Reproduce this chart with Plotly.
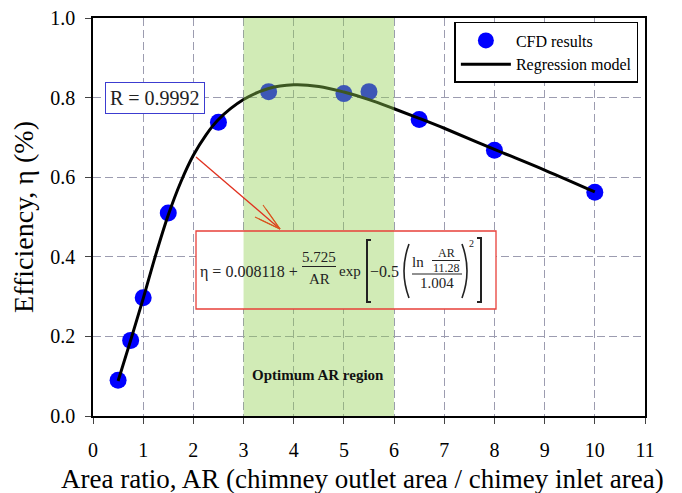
import plotly.graph_objects as go

# ---- data ----
ar_cfd = [0.5, 0.75, 1.0, 1.5, 2.5, 3.5, 5.0, 5.5, 6.5, 8.0, 10.0]
eta_cfd = [0.09, 0.19, 0.297, 0.51, 0.738, 0.815, 0.81, 0.815, 0.745, 0.668, 0.562]

ar_model = [0.5, 0.75, 1.0, 1.25, 1.5, 1.75, 2.0, 2.25, 2.5, 3.0, 3.5, 4.0, 4.5, 5.0, 5.5, 6.0,
            6.5, 7.0, 8.0, 9.0, 10.0]
eta_model = [0.088, 0.19, 0.295, 0.405, 0.505, 0.588, 0.655, 0.706, 0.745, 0.795, 0.823, 0.832,
             0.828, 0.814, 0.795, 0.772, 0.748, 0.723, 0.670, 0.618, 0.563]

x_ticks = list(range(0, 12))
y_ticks = [0.0, 0.2, 0.4, 0.6, 0.8, 1.0]

# page body adds an 8px offset; figure is sized so that the plot area lands
# at x 93..645, y 18..416 in the 682x493 window
OFF = 8
W, H = 682 - OFF, 493 - OFF
PX0, PX1, PY0, PY1 = 93, 645, 416, 18
L, R, T, B = PX0 - OFF, W + OFF - PX1, PY1 - OFF, H + OFF - PY0
XMAX, YMAX = 11.0, 1.0

def dx(px):
    return (px - PX0) / (PX1 - PX0) * XMAX

def dy(py):
    return (PY0 - py) / (PY0 - PY1) * YMAX

SERIF = "Liberation Serif, Times New Roman, serif"

fig = go.Figure()
fig.add_trace(go.Scatter(x=ar_cfd, y=eta_cfd, mode="markers", name="CFD results",
                         marker=dict(color="#0000ff", size=17)))
fig.add_trace(go.Scatter(x=ar_model, y=eta_model, mode="lines", name="Regression model",
                         line=dict(color="black", width=3, shape="spline", smoothing=1)))

shapes = []
bx0, bx1, by0, by1 = 196, 496, 231, 309
shapes.append(dict(type="rect", xref="x", yref="y", x0=dx(bx0), x1=dx(bx1), y0=dy(by1), y1=dy(by0),
                   fillcolor="white", line=dict(width=0), layer="above"))
shapes.append(dict(type="rect", xref="x", yref="y", x0=3, x1=6, y0=0, y1=1,
                   fillcolor="rgb(146,208,80)", opacity=0.42, line=dict(width=0), layer="above"))
shapes.append(dict(type="rect", xref="x", yref="y", x0=dx(bx0), x1=dx(bx1), y0=dy(by1), y1=dy(by0),
                   line=dict(color="#e8403a", width=1.3), layer="above"))
red = "#e0301e"
shapes.append(dict(type="line", xref="x", yref="y", x0=dx(196), y0=dy(157), x1=dx(280), y1=dy(229),
                   line=dict(color=red, width=1.3), layer="above"))
for hx, hy in [(263, 205), (255, 217), (266, 209), (259, 219)]:
    shapes.append(dict(type="line", xref="x", yref="y", x0=dx(280), y0=dy(229), x1=dx(hx), y1=dy(hy),
                       line=dict(color="#d9541e", width=1.1), layer="above"))

def pline(x0, y0, x1, y1, w=1.2):
    shapes.append(dict(type="line", xref="x", yref="y", x0=dx(x0), y0=dy(y0), x1=dx(x1), y1=dy(y1),
                       line=dict(color="#222", width=w), layer="above"))

def ppath(pts, q=False, w=1.8):
    if q:
        (ax_, ay_), (cx_, cy_), (ex_, ey_) = pts
        path = f"M {dx(ax_)},{dy(ay_)} Q {dx(cx_)},{dy(cy_)} {dx(ex_)},{dy(ey_)}"
    else:
        path = "M " + " L ".join(f"{dx(a)},{dy(b)}" for a, b in pts)
    shapes.append(dict(type="path", xref="x", yref="y", path=path,
                       line=dict(color="#222", width=w), layer="above"))

pline(302, 266.5, 336, 266.5)
pline(432, 260.5, 460, 260.5, 1)
pline(412, 274, 462, 274)
ppath([(371, 240), (367, 240), (367, 302), (371, 302)], w=2)
ppath([(477, 238), (481, 238), (481, 302), (477, 302)], w=2)
ppath([(409, 244), (399, 271), (409, 298)], q=True, w=1.6)
ppath([(462, 244), (472, 271), (462, 298)], q=True, w=1.6)

anns = []

def ann(text, px, py, size=15, color="#222"):
    anns.append(dict(text=text, x=dx(px), y=dy(py), xref="x", yref="y", showarrow=False,
                     xanchor="center", yanchor="middle",
                     font=dict(family=SERIF, size=size, color=color)))

ann("η = 0.008118 +", 249, 271.5, 16)
ann("5.725", 319, 257, 15)
ann("AR", 319, 278.5, 15)
ann("exp", 350, 271, 15)
ann("−0.5", 384, 271.5, 16)
ann("ln", 418, 262, 15)
ann("AR", 446, 252.5, 12)
ann("11.28", 446, 267.5, 12)
ann("1.004", 437, 283, 15)
ann("2", 471, 243, 10)
ann("<b>Optimum AR region</b>", 318, 375, 15, "#111")

anns.append(dict(text="R = 0.9992", x=dx(155), y=dy(97.5), xref="x", yref="y", showarrow=False,
                 xanchor="center", yanchor="middle",
                 font=dict(family=SERIF, size=20, color="#222"),
                 bordercolor="#3c3cd0", borderwidth=1, borderpad=4, bgcolor="white"))

# x-axis title (paper annotation, slightly left of the plot centre as in the reference)
anns.append(dict(text="Area ratio, AR (chimney outlet area / chimey inlet area)",
                 x=dx(362) / XMAX, y=dy(479) / YMAX, xref="paper", yref="paper", showarrow=False,
                 xanchor="center", yanchor="middle",
                 font=dict(family=SERIF, size=27, color="black")))

grid = dict(showgrid=True, gridcolor="#9c9cb0", gridwidth=1, griddash="8px,4px")

fig.update_layout(
    width=W, height=H, margin=dict(l=L, r=R, t=T, b=B, autoexpand=False),
    paper_bgcolor="white", plot_bgcolor="white",
    font=dict(family=SERIF, color="black"),
    shapes=shapes, annotations=anns,
    legend=dict(x=0.988, y=0.99, xanchor="right", yanchor="top",
                bordercolor="black", borderwidth=1.5, bgcolor="white",
                font=dict(family=SERIF, size=16, color="black"),
                itemwidth=50, tracegroupgap=2),
    xaxis=dict(range=[0, XMAX], tickvals=x_ticks, ticks="outside", ticklen=6, tickwidth=1.2,
               ticklabelstandoff=9, automargin=False, ticklabeloverflow="allow",
               showline=True, linecolor="black", linewidth=1.5, mirror=True, zeroline=False,
               tickfont=dict(family=SERIF, size=20, color="black"),
               **grid),
    yaxis=dict(range=[0, YMAX], tickvals=y_ticks, tickformat=".1f", ticks="outside", ticklen=6,
               tickwidth=1.2, ticklabelstandoff=6, automargin=False, ticklabeloverflow="allow",
               showline=True, linecolor="black", linewidth=1.5, mirror=True,
               zeroline=False, tickfont=dict(family=SERIF, size=20, color="black"),
               title=dict(text="Efficiency, η (%)", font=dict(family=SERIF, size=28, color="black"),
                          standoff=12),
               **grid),
)

fig.write_html("out.html")
